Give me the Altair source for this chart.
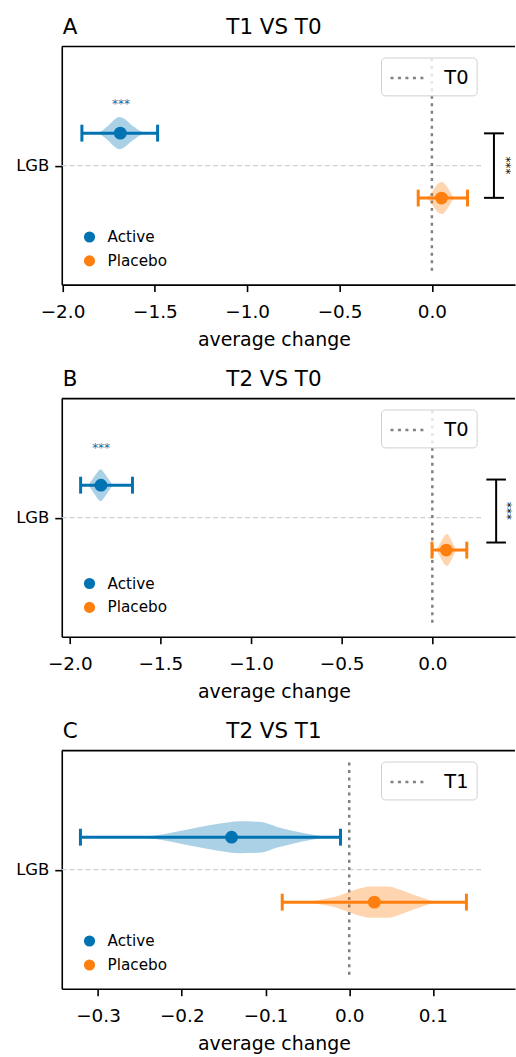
import altair as alt
import pandas as pd

# ---------------- data ----------------
PANELS = ["A", "B", "C"]
TITLES = ["T1 VS T0", "T2 VS T0", "T2 VS T1"]
REF_LABELS = ["T0", "T0", "T1"]
ROW_LABEL = "LGB"
GROUPS = ["Active", "Placebo"]
COLORS = ["#0173b2", "#ff7f0e"]
X_TITLE = "average change"

X_TICKS = [
    [-2.0, -1.5, -1.0, -0.5, 0.0],
    [-2.0, -1.5, -1.0, -0.5, 0.0],
    [-0.3, -0.2, -0.1, 0.0, 0.1],
]
X_DOMAINS = [[-2.004, 0.45], [-2.044, 0.456], [-0.3433, 0.198]]

MEAN = [[-1.687, 0.052], [-1.828, 0.077], [-0.1405, 0.030]]
CI_LO = [[-1.895, -0.074], [-1.940, -0.002], [-0.321, -0.080]]
CI_HI = [[-1.485, 0.193], [-1.654, 0.190], [-0.0104, 0.140]]

# violin outlines: x positions and relative density (1 = widest)
VIOLIN_X = [
    [
        [-1.812, -1.791, -1.764, -1.737, -1.715, -1.694, -1.672, -1.650, -1.629, -1.607, -1.586, -1.564, -1.553],
        [-0.027, -0.005, 0.016, 0.038, 0.054, 0.070, 0.092, 0.113, 0.124],
    ],
    [
        [-1.896, -1.874, -1.852, -1.830, -1.808, -1.786, -1.764],
        [0.022, 0.044, 0.066, 0.082, 0.099, 0.115, 0.132],
    ],
    [
        [-0.250, -0.2396, -0.2238, -0.2039, -0.1842, -0.1563, -0.1306, -0.1048, -0.0869, -0.0651, -0.0413, -0.0254, -0.019],
        [-0.0512, -0.0373, -0.0135, 0.0063, 0.0262, 0.0461, 0.0619, 0.0777, 0.0937, 0.1048],
    ],
]
VIOLIN_D = [
    [
        [0, 0.12, 0.35, 0.65, 0.88, 1.0, 0.94, 0.76, 0.53, 0.35, 0.18, 0.06, 0],
        [0, 0.29, 0.65, 0.94, 1.0, 0.88, 0.53, 0.12, 0],
    ],
    [
        [0, 0.38, 0.75, 1.0, 0.75, 0.38, 0],
        [0, 0.44, 0.88, 1.0, 0.75, 0.38, 0],
    ],
    [
        [0, 0.06, 0.17, 0.37, 0.58, 0.84, 1.0, 0.95, 0.66, 0.37, 0.13, 0.02, 0],
        [0, 0.12, 0.38, 0.75, 0.97, 0.97, 0.75, 0.44, 0.16, 0],
    ],
]

STAR_TEXT = "***"
STAR_X = [-1.683, -1.827, None]
STAR_Y = [0.267, 0.301, None]
BRACKET_X = [0.336, 0.352, None]
BRACKET_TOP = [0.149, 0.176, None]
BRACKET_BOT = [-0.149, -0.115, None]
BRACKET_TEXT_X = [0.378, 0.390, None]

# ---------------- layout / style ----------------
W, H = 455, 239
GROUP_Y = [0.15, -0.15]
Y_DOMAIN = [-0.55, 0.55]
VIOLIN_HALF = 0.074
CAP_HALF = 0.039
BRACKET_CAP = 0.054
LEGEND_Y = [183.5, 178, 183.5]


def panel(i):
    xs = alt.Scale(domain=X_DOMAINS[i], nice=False, zero=False)
    ys = alt.Scale(domain=Y_DOMAIN, nice=False, zero=False)
    xaxis = alt.Axis(values=X_TICKS[i], format=".1f", title=X_TITLE, titleX=213,
                     titleAlign="center", grid=False, tickSize=7, labelFontSize=18.5,
                     titleFontSize=19, labelPadding=11, titlePadding=10,
                     domainWidth=1.6, tickWidth=1.6, labelFlush=False, labelOverlap=False)
    yaxis = alt.Axis(values=[0], labelExpr=f"'{ROW_LABEL}'", title=None, grid=False,
                     tickSize=7, labelFontSize=16.5, labelPadding=6,
                     domainWidth=1.6, tickWidth=1.6)

    def X(f):
        return alt.X(f, type="quantitative", scale=xs, axis=xaxis)

    def Y(f):
        return alt.Y(f, type="quantitative", scale=ys, axis=yaxis)

    cscale = alt.Scale(domain=GROUPS, range=COLORS)

    vrows = []
    for g in range(2):
        for xv, dv in zip(VIOLIN_X[i][g], VIOLIN_D[i][g]):
            vrows.append({"group": GROUPS[g], "x": xv,
                          "ylo": GROUP_Y[g] - dv * VIOLIN_HALF,
                          "yhi": GROUP_Y[g] + dv * VIOLIN_HALF})
    vdf = pd.DataFrame(vrows)

    sdf = pd.DataFrame({
        "group": GROUPS,
        "mean": MEAN[i],
        "lo": CI_LO[i],
        "hi": CI_HI[i],
        "gy": GROUP_Y,
    })
    cap_rows = []
    for g in range(2):
        for xv in (CI_LO[i][g], CI_HI[i][g]):
            cap_rows.append({"group": GROUPS[g], "x": xv,
                             "c1": GROUP_Y[g] - CAP_HALF, "c2": GROUP_Y[g] + CAP_HALF})
    cdf = pd.DataFrame(cap_rows)

    one = pd.DataFrame({"y0": [0.0], "x0": [0.0]})

    border = alt.Chart(one).mark_rule(color="black", strokeWidth=1.6).encode(
        x=alt.value(0), x2=alt.value(W), y=alt.value(0))

    hline = alt.Chart(one).mark_rule(color="#cfcfcf", strokeWidth=1.2, strokeDash=[5, 3]).encode(
        y=Y("y0"), x=alt.value(0), x2=alt.value(424))

    refdf = pd.DataFrame({"ref": [REF_LABELS[i]], "x0": [0.0]})
    vline = alt.Chart(refdf).mark_rule(color="#808080", strokeWidth=2.5).encode(
        x=X("x0"), y=alt.value(0.05 * H), y2=alt.value(0.95 * H),
        strokeDash=alt.StrokeDash(
            "ref:N",
            scale=alt.Scale(domain=[REF_LABELS[i]], range=[[3, 4.5]]),
            legend=alt.Legend(orient="none", legendX=320.5, legendY=11, title=None,
                              symbolType="M-1.68,0H1.68", symbolSize=484, symbolOffset=7.5,
                              symbolStrokeWidth=2.5, symbolStrokeColor="#808080",
                              labelOffset=23, labelFontSize=19.5, padding=8,
                              strokeColor="#d0d0d0", cornerRadius=4,
                              fillColor="rgba(255,255,255,0.8)")))

    violins = alt.Chart(vdf).mark_area(opacity=0.33, interpolate="monotone").encode(
        x=X("x"), y=Y("ylo"), y2="yhi:Q",
        fill=alt.Fill("group:N", scale=cscale, legend=None))

    ebar = alt.Chart(sdf).mark_rule(strokeWidth=3).encode(
        x=X("lo"), x2="hi:Q", y=Y("gy"),
        stroke=alt.Stroke("group:N", scale=cscale, legend=None))

    caps = alt.Chart(cdf).mark_rule(strokeWidth=3).encode(
        x=X("x"), y=Y("c1"), y2="c2:Q",
        stroke=alt.Stroke("group:N", scale=cscale, legend=None))

    points = alt.Chart(sdf).mark_circle(size=165, opacity=1).encode(
        x=X("mean"), y=Y("gy"),
        color=alt.Color("group:N", scale=cscale,
                        legend=alt.Legend(orient="none", legendX=20.2, legendY=LEGEND_Y[i],
                                          title=None, symbolType="circle", symbolSize=125,
                                          symbolOpacity=1, symbolStrokeWidth=0,
                                          labelFontSize=15.3, labelOffset=10.5,
                                          rowPadding=8, padding=0)))

    letter = alt.Chart(pd.DataFrame({"t": [PANELS[i]]})).mark_text(
        fontSize=21.5, align="left", baseline="alphabetic", color="black").encode(
        text="t:N", x=alt.value(1), y=alt.value(-12.5))
    title = alt.Chart(pd.DataFrame({"t": [TITLES[i]]})).mark_text(
        fontSize=21.5, align="center", baseline="alphabetic", color="black").encode(
        text="t:N", x=alt.value(213), y=alt.value(-12.5))

    layers = [border, hline, vline, violins, ebar, caps, points, letter, title]

    if STAR_X[i] is not None:
        stdf = pd.DataFrame({"x": [STAR_X[i]], "y": [STAR_Y[i]], "t": [STAR_TEXT]})
        layers.append(alt.Chart(stdf).mark_text(fontSize=12, color=COLORS[0], align="center",
                                                baseline="alphabetic").encode(
            x=X("x"), y=Y("y"), text="t:N"))
    if BRACKET_X[i] is not None:
        bdf = pd.DataFrame({"x": [BRACKET_X[i]], "y1": [BRACKET_TOP[i]], "y2": [BRACKET_BOT[i]]})
        bcap = pd.DataFrame({"x1": [BRACKET_X[i] - BRACKET_CAP] * 2,
                             "x2": [BRACKET_X[i] + BRACKET_CAP] * 2,
                             "y": [BRACKET_TOP[i], BRACKET_BOT[i]]})
        btxt = pd.DataFrame({"x": [BRACKET_TEXT_X[i]],
                             "y": [(BRACKET_TOP[i] + BRACKET_BOT[i]) / 2], "t": [STAR_TEXT]})
        layers.append(alt.Chart(bdf).mark_rule(color="black", strokeWidth=2).encode(
            x=X("x"), y=Y("y1"), y2="y2:Q"))
        layers.append(alt.Chart(bcap).mark_rule(color="black", strokeWidth=2).encode(
            x=X("x1"), x2="x2:Q", y=Y("y")))
        layers.append(alt.Chart(btxt).mark_text(fontSize=12, color="black", angle=90,
                                                align="center", baseline="alphabetic").encode(
            x=X("x"), y=Y("y"), text="t:N"))

    return alt.layer(*layers).properties(width=W, height=H)


chart = alt.vconcat(*[panel(i) for i in range(3)], spacing=18.4).resolve_scale(
    x="independent", y="independent", color="independent", strokeDash="independent"
).configure(
    font="DejaVu Sans",
    padding={"left": 15, "top": 14.7, "right": 0, "bottom": 0},
).configure_view(stroke=None).configure_axis(
    domainColor="black", tickColor="black", labelColor="black", titleColor="black",
    titleFontWeight="normal", labelFont="DejaVu Sans", titleFont="DejaVu Sans"
).configure_legend(labelFont="DejaVu Sans", labelColor="black")

chart.save("out.html", embed_options={"renderer": "svg", "actions": False})
